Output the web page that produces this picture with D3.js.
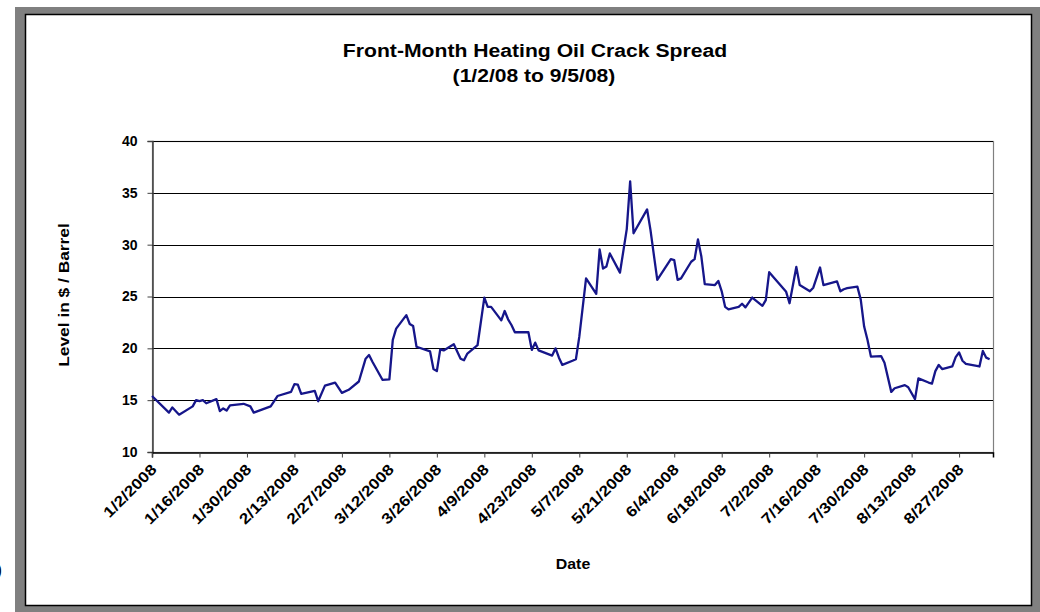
<!DOCTYPE html>
<html>
<head>
<meta charset="utf-8">
<script src="https://cdn.jsdelivr.net/npm/d3@7"></script>
<style>
  html, body { margin: 0; padding: 0; background: #ffffff; }
  svg { display: block; }
  text { font-family: "Liberation Sans", Arial, sans-serif; font-weight: bold; fill: #000; }
</style>
</head>
<body>
<svg id="chart" width="1040" height="612"></svg>
<script>
// Front-month heating oil crack spread, $/barrel, Jan 2 - Sep 5 2008
const dates = [
  "1/2/2008","1/7/2008","1/8/2008","1/10/2008","1/14/2008","1/15/2008","1/16/2008","1/17/2008","1/18/2008",
  "1/21/2008","1/22/2008","1/23/2008","1/24/2008","1/25/2008","1/29/2008","1/31/2008","2/1/2008","2/6/2008",
  "2/8/2008","2/12/2008","2/13/2008","2/14/2008","2/15/2008","2/19/2008","2/20/2008","2/22/2008","2/25/2008",
  "2/27/2008","2/29/2008","3/3/2008","3/5/2008","3/6/2008","3/7/2008","3/10/2008","3/12/2008","3/13/2008",
  "3/14/2008","3/17/2008","3/18/2008","3/19/2008","3/20/2008","3/24/2008","3/25/2008","3/26/2008","3/27/2008",
  "3/28/2008","3/31/2008","4/2/2008","4/3/2008","4/4/2008","4/7/2008","4/9/2008","4/10/2008","4/11/2008",
  "4/14/2008","4/15/2008","4/16/2008","4/17/2008","4/18/2008","4/22/2008","4/23/2008","4/24/2008","4/25/2008",
  "4/29/2008","4/30/2008","5/1/2008","5/2/2008","5/5/2008","5/6/2008","5/7/2008","5/9/2008","5/12/2008",
  "5/13/2008","5/14/2008","5/15/2008","5/16/2008","5/19/2008","5/21/2008","5/22/2008","5/23/2008","5/27/2008",
  "5/28/2008","5/29/2008","5/30/2008","6/3/2008","6/4/2008","6/5/2008","6/6/2008","6/9/2008","6/10/2008",
  "6/11/2008","6/12/2008","6/13/2008","6/16/2008","6/17/2008","6/18/2008","6/19/2008","6/20/2008","6/23/2008",
  "6/24/2008","6/25/2008","6/27/2008","6/30/2008","7/1/2008","7/2/2008","7/7/2008","7/8/2008","7/10/2008",
  "7/11/2008","7/14/2008","7/15/2008","7/17/2008","7/18/2008","7/22/2008","7/23/2008","7/24/2008","7/25/2008",
  "7/28/2008","7/29/2008","7/30/2008","7/31/2008","8/1/2008","8/4/2008","8/5/2008","8/7/2008","8/8/2008",
  "8/11/2008","8/12/2008","8/14/2008","8/15/2008","8/18/2008","8/19/2008","8/20/2008","8/21/2008","8/22/2008",
  "8/25/2008","8/26/2008","8/27/2008","8/28/2008","8/29/2008","9/2/2008","9/3/2008","9/4/2008","9/5/2008"
];
const spread = [
  15.4, 13.8, 14.3, 13.6, 14.4, 15.0, 14.9, 15.0, 14.7,
  15.1, 13.95, 14.2, 14.0, 14.5, 14.65, 14.4, 13.8, 14.4,
  15.4, 15.8, 16.55, 16.5, 15.6, 15.9, 14.9, 16.4, 16.7,
  15.7, 16.0, 16.8, 19.0, 19.35, 18.7, 16.95, 17.0, 20.8,
  21.9, 23.2, 22.35, 22.15, 20.15, 19.7, 18.0, 17.8, 19.9,
  19.8, 20.4, 19.0, 18.85, 19.5, 20.3, 24.9, 24.0, 24.0,
  22.7, 23.6, 22.8, 22.25, 21.55, 21.55, 19.85, 20.55, 19.8,
  19.3, 20.0, 19.1, 18.4, 18.8, 18.95, 21.1, 26.75, 25.25,
  29.55, 27.7, 27.9, 29.15, 27.3, 31.5, 36.1, 31.1, 33.4,
  31.4, 29.0, 26.6, 28.6, 28.5, 26.6, 26.75, 28.35, 28.6,
  30.5, 28.85, 26.2, 26.1, 26.5, 25.5, 24.0, 23.75, 24.0,
  24.3, 23.95, 24.9, 24.1, 24.65, 27.35, 25.45, 24.35, 27.85,
  26.1, 25.5, 25.85, 27.8, 26.1, 26.45, 25.5, 25.7, 25.8,
  25.95, 24.7, 22.1, 20.8, 19.2, 19.25, 18.6, 15.8, 16.15,
  16.45, 16.25, 15.1, 17.1, 16.7, 16.6, 17.8, 18.4, 18.0,
  18.25, 19.15, 19.6, 18.8, 18.5, 18.25, 19.75, 19.1, 18.95
];
const xTickLabels = [
  "1/2/2008","1/16/2008","1/30/2008","2/13/2008","2/27/2008","3/12/2008","3/26/2008","4/9/2008",
  "4/23/2008","5/7/2008","5/21/2008","6/4/2008","6/18/2008","7/2/2008","7/16/2008","7/30/2008",
  "8/13/2008","8/27/2008"
];
const yTicks = [10, 15, 20, 25, 30, 35, 40];
const axisStart = "1/2/2008", axisEnd = "9/6/2008";

const parse = d3.timeParse("%m/%d/%Y");
const series = dates.map((d, i) => ({ date: parse(d), value: spread[i] }));

const svg = d3.select("#chart");

// widen text glyphs along their baseline by a factor k
function widen(sel, k) {
  sel.each(function () {
    const len = this.getComputedTextLength();
    d3.select(this).attr("textLength", len * k).attr("lengthAdjust", "spacingAndGlyphs");
  });
}

// outer frame and white chart panel
svg.append("rect").attr("x", 15).attr("y", 7).attr("width", 1025).attr("height", 605).attr("fill", "#808080");
svg.append("rect").attr("x", 25.5).attr("y", 14.5).attr("width", 1006).attr("height", 591)
  .attr("fill", "#fff").attr("stroke", "#000").attr("stroke-width", 1.5);

const plot = { left: 152, right: 993, top: 141, bottom: 452 };

const x = d3.scaleTime()
  .domain([parse(axisStart), parse(axisEnd)])
  .range([plot.left, plot.right]);
const y = d3.scaleLinear().domain([10, 40]).range([plot.bottom, plot.top]);

// plot area border
svg.append("rect")
  .attr("x", plot.left + 0.5).attr("y", plot.top + 0.5)
  .attr("width", plot.right - plot.left).attr("height", plot.bottom - plot.top)
  .attr("fill", "#fff").attr("stroke", "#808080").attr("stroke-width", 1.2);

// horizontal gridlines
svg.append("g").selectAll("line")
  .data(yTicks.filter(v => v > 10))
  .join("line")
  .attr("x1", plot.left).attr("x2", plot.right)
  .attr("y1", d => Math.round(y(d)) + 0.5).attr("y2", d => Math.round(y(d)) + 0.5)
  .attr("stroke", "#000").attr("stroke-width", 1.1);

// y axis
const yAxis = svg.append("g")
  .attr("transform", `translate(${plot.left + 0.5},0)`)
  .call(d3.axisLeft(y).tickValues(yTicks).tickSize(5).tickPadding(10).tickFormat(d3.format("d")));
yAxis.attr("font-family", null).attr("font-size", null);
yAxis.select(".domain").attr("stroke", "#404040").attr("stroke-width", 1.5);
yAxis.selectAll(".tick line").attr("stroke", "#404040");
yAxis.selectAll("text").style("font-size", "14px").attr("fill", "#000");

// x axis with rotated date labels
const xAxis = svg.append("g")
  .attr("transform", `translate(0,${plot.bottom + 0.5})`)
  .call(d3.axisBottom(x).tickValues(xTickLabels.map(parse)).tickSize(5)
    .tickFormat((d, i) => xTickLabels[i]));
xAxis.attr("font-family", null).attr("font-size", null);
xAxis.select(".domain").attr("stroke", "#000").attr("stroke-width", 1.5);
xAxis.selectAll(".tick line").attr("stroke", "#404040");
const xLabels = xAxis.selectAll("text")
  .style("font-size", "15px")
  .attr("text-anchor", "end")
  .attr("dy", null)
  .attr("y", 0)
  .attr("transform", "translate(5,18) rotate(-45)");
widen(xLabels, 1.16);

// series line
svg.append("path")
  .datum(series)
  .attr("fill", "none")
  .attr("stroke", "#16168a")
  .attr("stroke-width", 2.3)
  .attr("stroke-linejoin", "round")
  .attr("d", d3.line().x(d => x(d.date)).y(d => y(d.value)));

// titles
const t1 = svg.append("text").attr("x", 535).attr("y", 57).attr("text-anchor", "middle")
  .style("font-size", "18px").text("Front-Month Heating Oil Crack Spread");
const t2 = svg.append("text").attr("x", 534).attr("y", 82).attr("text-anchor", "middle")
  .style("font-size", "18px").text("(1/2/08 to 9/5/08)");
widen(t1, 1.175);
widen(t2, 1.17);

const yl = svg.append("text")
  .attr("transform", "translate(69,295) rotate(-90)")
  .attr("text-anchor", "middle")
  .style("font-size", "15px").text("Level in $ / Barrel");
widen(yl, 1.155);

const dl = svg.append("text").attr("x", 573).attr("y", 569).attr("text-anchor", "middle")
  .style("font-size", "15px").text("Date");
widen(dl, 1.06);

svg.append("text").attr("x", -3).attr("y", 575).style("font-size", "14px").text(")");
</script>
</body>
</html>
